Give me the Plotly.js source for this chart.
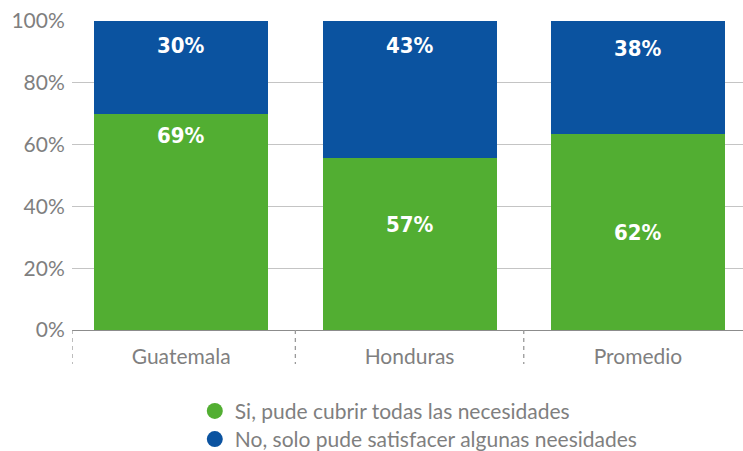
<!DOCTYPE html>
<html>
<head>
<meta charset="utf-8">
<script src="https://cdn.plot.ly/plotly-3.0.1.min.js"></script>
<style>html,body{margin:0;padding:0;background:#fff;}#chart{width:743px;height:451px;}</style>
</head>
<body>
<div id="chart"></div>
<script>
// ---- data ----
var categories = ["Guatemala", "Honduras", "Promedio"];
var seriesNames = ["Si, pude cubrir todas las necesidades", "No, solo pude satisfacer algunas neesidades"];
var siValues = [69.9, 55.7, 63.4];
var noValues = [30.1, 44.3, 36.6];
var siLabels = ["69%", "57%", "62%"];
var noLabels = ["30%", "43%", "38%"];
var yTickVals = [0, 20, 40, 60, 80, 100];
var yTickText = ["0%", "20%", "40%", "60%", "80%", "100%"];

// ---- style ----
var GREEN = "#52AE32", BLUE = "#0B53A0", GRAY = "#7f7f7f";
var labelFont = {family: "DejaVu Sans Condensed, DejaVu Sans, sans-serif", size: 22, color: "#ffffff", weight: "bold"};
// label placement styles (per bar): where inside the segment, and pixel nudge
var siAnchor = ["top", "middle", "middle"];
var siShift = [-21, 19, 0];
var noShift = [-24, -24, -27];
var legendFont = {family: "Lato, sans-serif", size: 21, color: GRAY};

var traces = [
  {type: "bar", x: categories, y: siValues, name: seriesNames[0], marker: {color: GREEN}, showlegend: false, hoverinfo: "skip"},
  {type: "bar", x: categories, y: noValues, name: seriesNames[1], marker: {color: BLUE}, showlegend: false, hoverinfo: "skip"},
  {type: "scatter", mode: "markers", x: [null], y: [null], name: seriesNames[0], legend: "legend",
    marker: {color: GREEN, size: 19, symbol: "circle"}},
  {type: "scatter", mode: "markers", x: [null], y: [null], name: seriesNames[1], legend: "legend2",
    marker: {color: BLUE, size: 19, symbol: "circle"}}
];

var annotations = [];
categories.forEach(function (c, i) {
  var gy = siAnchor[i] === "top" ? siValues[i] : siValues[i] / 2;
  annotations.push({x: c, y: gy, xref: "x", yref: "y", text: siLabels[i], showarrow: false,
    yanchor: "middle", yshift: siShift[i], font: labelFont});
  annotations.push({x: c, y: siValues[i] + noValues[i], xref: "x", yref: "y", text: noLabels[i], showarrow: false,
    yanchor: "middle", yshift: noShift[i], font: labelFont});
});

var shapes = [];
[-0.478, 0.5, 1.5].forEach(function (xv) {
  shapes.push({type: "line", xref: "x", yref: "paper", x0: xv, x1: xv, y0: 0, y1: -0.11,
    line: {color: "#9a9a9a", width: 1.3, dash: "4px,4px"}});
});

var layout = {
  width: 743, height: 451,
  margin: {l: 72, r: 0, t: 21, b: 121, autoexpand: false},
  paper_bgcolor: "#ffffff", plot_bgcolor: "#ffffff",
  barmode: "stack", bargap: 0.238,
  font: {family: "Lato, sans-serif", color: GRAY, size: 21},
  xaxis: {type: "category", range: [-0.478, 2.46], showgrid: false, zeroline: false,
    showline: true, linecolor: "#8c8c8c", linewidth: 1.3, ticks: "", fixedrange: true, automargin: false,
    ticklabelstandoff: 7,
    tickfont: {family: "Lato, sans-serif", size: 21, color: GRAY}},
  yaxis: {range: [0, 100], tickvals: yTickVals, ticktext: yTickText, showgrid: true,
    gridcolor: "#c4c4c4", gridwidth: 1.3, zeroline: false, showline: false, automargin: false,
    ticks: "outside", ticklen: 2, tickcolor: "rgba(0,0,0,0)", fixedrange: true,
    tickfont: {family: "Lato, sans-serif", size: 21, color: GRAY}},
  legend: {orientation: "v", x: 0.183, xanchor: "left", y: -0.263, yanchor: "middle",
    font: legendFont, itemclick: false, bgcolor: "rgba(0,0,0,0)"},
  legend2: {orientation: "v", x: 0.183, xanchor: "left", y: -0.354, yanchor: "middle",
    font: legendFont, itemclick: false, bgcolor: "rgba(0,0,0,0)"},
  annotations: annotations,
  shapes: shapes,
  showlegend: true
};

Plotly.newPlot("chart", traces, layout, {displayModeBar: false, staticPlot: true});
</script>
</body>
</html>
